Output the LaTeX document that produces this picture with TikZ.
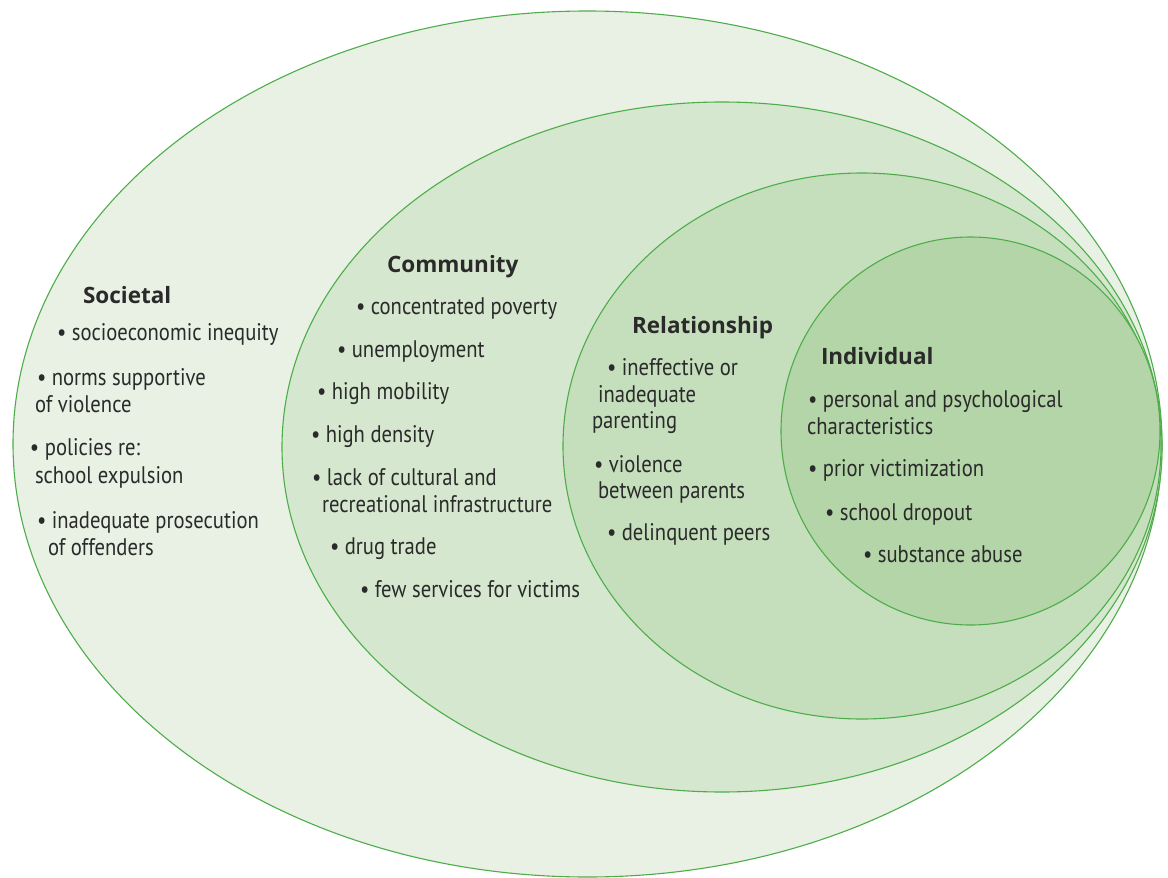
\documentclass[tikz,border=0pt]{standalone}
\usepackage{fontspec}
\setmainfont{PT Sans}[FakeStretch=0.86]
\newfontfamily\headfont{Open Sans}
\definecolor{ringline}{HTML}{4EAD4A}
\definecolor{fillA}{HTML}{E8F1E4}
\definecolor{fillB}{HTML}{D5E7CE}
\definecolor{fillC}{HTML}{C5DFBD}
\definecolor{fillD}{HTML}{B3D5A8}
\definecolor{txt}{HTML}{2A2A2A}
\tikzset{
  ring/.style={draw=ringline, line width=1.1pt},
  item/.style={anchor=base west, inner sep=0pt, outer sep=0pt, text=txt, font=\fontsize{24}{27}\selectfont},
  head/.style={anchor=base west, inner sep=0pt, outer sep=0pt, text=txt, font=\headfont\fontsize{22.5}{27}\selectfont\bfseries},
}
\begin{document}
\begin{tikzpicture}[x=1pt,y=-1pt]
\useasboundingbox (0,0) rectangle (1168,878);
\fill[white] (0,0) rectangle (1168,878);
\path[ring, fill=fillA] (587.5,444) ellipse [x radius=574.5, y radius=433];
\path[ring, fill=fillB] (722,447) ellipse [x radius=440, y radius=345];
\path[ring, fill=fillC] (862,446) ellipse [x radius=299, y radius=273];
\path[ring, fill=fillD] (970.5,431) ellipse [x radius=189.5, y radius=194];

% Societal
\node[head] (soc) at (83,303) {Societal};
\node[item] (s1) at (57,340) {• socioeconomic inequity};
\node[item] (s2a) at (37,385) {• norms supportive};
\node[item] (s2b) at (35,412) {of violence};
\node[item] (s3a) at (30,455) {• policies re:};
\node[item] (s3b) at (35,483) {school expulsion};
\node[item] (s4a) at (37,528) {• inadequate prosecution};
\node[item] (s4b) at (48,555) {of offenders};

% Community
\node[head] (com) at (387,272) {Community};
\node[item] (c1) at (356,314) {• concentrated poverty};
\node[item] (c2) at (337,357) {• unemployment};
\node[item] (c3) at (317,399) {• high mobility};
\node[item] (c4) at (311,442) {• high density};
\node[item] (c5a) at (312,485) {• lack of cultural and};
\node[item] (c5b) at (322,512) {recreational infrastructure};
\node[item] (c6) at (330,554) {• drug trade};
\node[item] (c7) at (360,597) {• few services for victims};

% Relationship
\node[head] (rel) at (632,333) {Relationship};
\node[item] (r1a) at (607,375) {• ineffective or};
\node[item] (r1b) at (598,402) {inadequate};
\node[item] (r1c) at (592,428) {parenting};
\node[item] (r2a) at (594,472) {• violence};
\node[item] (r2b) at (598,498) {between parents};
\node[item] (r3) at (607,540) {• delinquent peers};

% Individual
\node[head] (ind) at (821,364) {Individual};
\node[item] (i1a) at (808,407) {• personal and psychological};
\node[item] (i1b) at (807,434) {characteristics};
\node[item] (i2) at (808,476) {• prior victimization};
\node[item] (i3) at (825,520) {• school dropout};
\node[item] (i4) at (863,562) {• substance abuse};
\end{tikzpicture}
\end{document}
